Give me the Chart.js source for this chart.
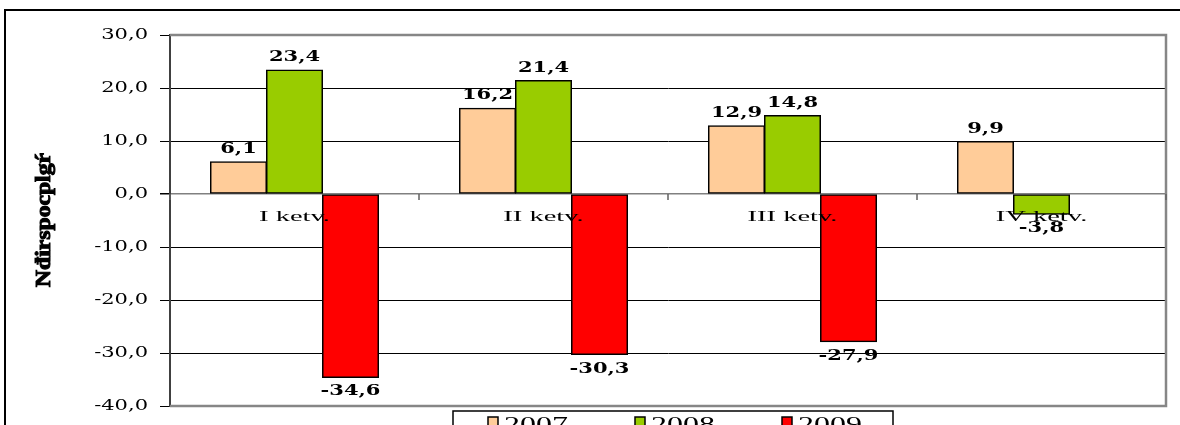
<!DOCTYPE html>
<html><head><meta charset="utf-8">
<script src="https://cdn.jsdelivr.net/npm/chart.js@4"></script>
<style>
html,body{margin:0;padding:0;background:#fff;overflow:hidden;width:1180px;height:425px}
#wrap{position:relative;width:1180px;height:450px}
</style></head><body>
<div id="wrap"><canvas id="c" width="1180" height="450"></canvas></div>
<script>
const categories = ['I ketv.', 'II ketv.', 'III ketv.', 'IV ketv.'];
const seriesNames = ['2007', '2008', '2009'];
const values2007 = [6.1, 16.2, 12.9, 9.9];
const values2008 = [23.4, 21.4, 14.8, -3.8];
const values2009 = [-34.6, -30.3, -27.9, null];
const seriesColors = ['#FFCC99', '#99CC00', '#FF0000'];
const yTicks = [30, 20, 10, 0, -10, -20, -30, -40];
const yTitle = 'Nđirspocplgŕ';

const fmt = v => v.toFixed(1).replace('.', ',');

function stretchText(ctx, text, x, y, font, align, baseline, sx, color) {
  ctx.save();
  ctx.font = font;
  ctx.fillStyle = color || '#000';
  ctx.textBaseline = baseline;
  const w = ctx.measureText(text).width * sx;
  let left = x;
  if (align === 'center') left = x - w / 2;
  else if (align === 'right') left = x - w;
  ctx.translate(left, y);
  ctx.scale(sx, 1);
  ctx.textAlign = 'left';
  ctx.fillText(text, 0, 0);
  ctx.restore();
}

const decor = {
  id: 'decor',
  afterDraw(chart) {
    const ctx = chart.ctx;
    const a = chart.chartArea;
    const ys = chart.scales.y, xs = chart.scales.x;
    const y0 = ys.getPixelForValue(0);

    // plot area border (top, right, bottom)
    ctx.save();
    ctx.strokeStyle = '#868686';
    ctx.lineWidth = 2.5;
    ctx.beginPath();
    ctx.moveTo(a.left, a.top); ctx.lineTo(a.right, a.top);
    ctx.lineTo(a.right, a.bottom); ctx.lineTo(a.left, a.bottom);
    ctx.stroke();
    // category boundary ticks on zero line
    ctx.strokeStyle = '#606060';
    ctx.lineWidth = 1.5;
    const n = categories.length;
    const cw = (a.right - a.left) / n;
    for (let i = 0; i <= n; i++) {
      const x = Math.round(xs.getPixelForValue(i) - cw / 2);
      ctx.beginPath(); ctx.moveTo(x, y0); ctx.lineTo(x, y0 + 6); ctx.stroke();
    }
    ctx.restore();

    // y tick labels
    ys.ticks.forEach(t => {
      stretchText(ctx, fmt(t.value), 148, ys.getPixelForValue(t.value), '14px "DejaVu Serif"', 'right', 'middle', 1.5, '#000');
    });

    // category labels
    xs.getLabels().forEach((lab, i) => {
      stretchText(ctx, lab, xs.getPixelForValue(i), y0 + 27, '15px "Liberation Serif"', 'center', 'alphabetic', 1.9, '#000');
    });

    // data labels
    chart.data.datasets.forEach((ds, di) => {
      const meta = chart.getDatasetMeta(di);
      meta.data.forEach((bar, i) => {
        const v = ds.data[i];
        if (v === null || v === undefined) return;
        if (v >= 0) {
          stretchText(ctx, fmt(v), bar.x, bar.y - 9, 'bold 15px "DejaVu Serif"', 'center', 'alphabetic', 1.4, '#000');
        } else {
          stretchText(ctx, fmt(v), bar.x, bar.y + 18, 'bold 15px "DejaVu Serif"', 'center', 'alphabetic', 1.4, '#000');
        }
      });
    });

    // legend
    ctx.save();
    ctx.strokeStyle = '#000';
    ctx.lineWidth = 1.5;
    ctx.strokeRect(453, 411, 440, 40);
    chart.data.datasets.forEach((ds, di) => {
      const bx = 488 + di * 147;
      ctx.fillStyle = ds.backgroundColor;
      ctx.fillRect(bx, 417, 10, 10);
      ctx.lineWidth = 1.5;
      ctx.strokeRect(bx, 417, 10, 10);
      stretchText(ctx, ds.label, bx + 16, 431, '20px "Liberation Serif"', 'left', 'alphabetic', 1.6, '#000');
    });
    ctx.restore();

    // y axis title (rotated)
    ctx.save();
    ctx.font = 'bold 12px "Liberation Serif"';
    const tw = ctx.measureText(yTitle).width;
    ctx.translate(50, 220);
    ctx.scale(1.7, 1);
    ctx.rotate(-Math.PI / 2);
    ctx.scale(134 / tw, 1);
    ctx.fillStyle = '#000';
    ctx.strokeStyle = '#000';
    ctx.lineWidth = 0.6;
    ctx.textAlign = 'center';
    ctx.textBaseline = 'alphabetic';
    ctx.fillText(yTitle, 0, 0);
    ctx.strokeText(yTitle, 0, 0);
    ctx.restore();

    // outer frame
    ctx.save();
    ctx.strokeStyle = '#000';
    ctx.lineWidth = 2;
    ctx.beginPath();
    ctx.moveTo(5, 460); ctx.lineTo(5, 10); ctx.lineTo(1190, 10);
    ctx.stroke();
    ctx.restore();
  }
};

new Chart(document.getElementById('c'), {
  type: 'bar',
  data: {
    labels: categories,
    datasets: [
      { label: seriesNames[0], data: values2007, backgroundColor: seriesColors[0] },
      { label: seriesNames[1], data: values2008, backgroundColor: seriesColors[1] },
      { label: seriesNames[2], data: values2009, backgroundColor: seriesColors[2] }
    ].map(d => Object.assign(d, { borderColor: '#000', borderWidth: 1.5, borderSkipped: false,
                                  inflateAmount: 0.5,
                                  categoryPercentage: 0.675, barPercentage: 1.0 }))
  },
  options: {
    responsive: false,
    animation: false,
    events: [],
    layout: { padding: { left: 0, right: 14, top: 35, bottom: 44 } },
    plugins: { legend: { display: false }, tooltip: { enabled: false }, title: { display: false } },
    scales: {
      x: { display: false },
      y: {
        min: -40, max: 30,
        afterBuildTicks: s => { s.ticks = yTicks.map(v => ({ value: v })); },
        afterFit: s => { s.width = 170; },
        ticks: { display: false },
        grid: {
          color: c => (c.tick && c.tick.value === 0) ? '#808080' : '#000',
          lineWidth: c => (c.tick && c.tick.value === 0) ? 1.5 : 1,
          tickLength: 10, drawTicks: true, tickColor: '#000'
        },
        border: { display: true, color: '#404040', width: 2 }
      }
    }
  },
  plugins: [decor]
});
</script>
</body></html>
